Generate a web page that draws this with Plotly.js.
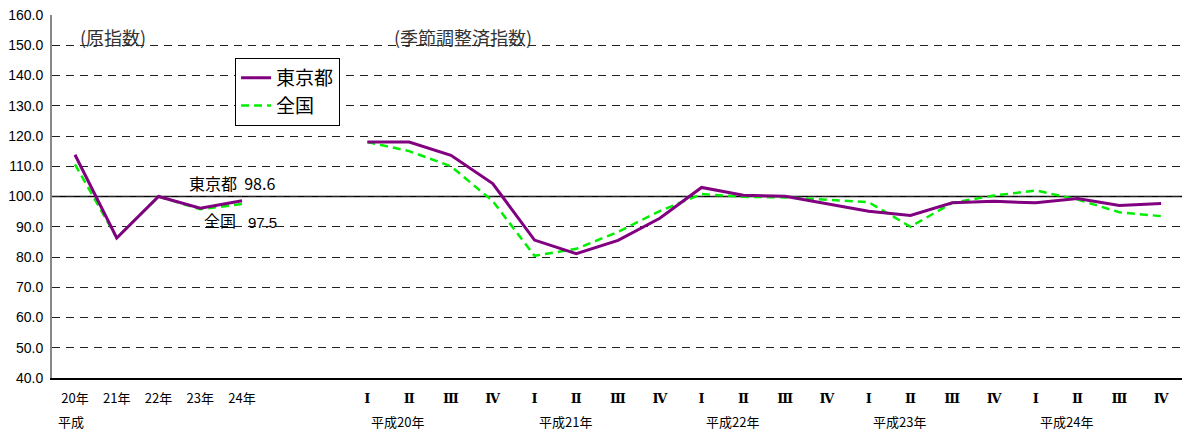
<!DOCTYPE html>
<html>
<head>
<meta charset="utf-8">
<script src="https://cdn.plot.ly/plotly-3.0.1.min.js"></script>
<style>html,body{margin:0;padding:0;background:#fff;}#chart{width:1183px;height:432px;}</style>
</head>
<body>
<div id="chart"></div>
<script>
// x positions (category index): 0-4 annual, 5-6 gap, 7-26 quarterly
const xIndex = [0,1,2,3,4,5,6,7,8,9,10,11,12,13,14,15,16,17,18,19,20,21,22,23,24,25,26];
const tickLabels = ['20年','21年','22年','23年','24年','','',
  'Ⅰ','Ⅱ','Ⅲ','Ⅳ','Ⅰ','Ⅱ','Ⅲ','Ⅳ','Ⅰ','Ⅱ','Ⅲ','Ⅳ','Ⅰ','Ⅱ','Ⅲ','Ⅳ','Ⅰ','Ⅱ','Ⅲ','Ⅳ'];
const tokyo = [113.8, 86.3, 100.0, 96.1, 98.6, null, null,
  118.0, 118.0, 113.6, 104.3, 85.6, 81.1, 85.5, 92.8, 103.0, 100.4, 100.1, 97.6,
  95.1, 93.7, 97.9, 98.4, 97.9, 99.3, 97.0, 97.7];
const zenkoku = [110.6, 86.3, 100.0, 95.8, 97.5, null, null,
  118.0, 115.0, 110.0, 98.5, 80.4, 82.7, 88.3, 95.2, 100.8, 99.9, 99.7, 99.0,
  98.1, 90.0, 97.9, 100.3, 102.0, 99.0, 94.8, 93.5];
const yearLabels = ['平成','平成20年','平成21年','平成22年','平成23年','平成24年'];
const yearLabelX = [-0.45, 7.05, 11.05, 15.05, 19.05, 23.05];
const yTicks = [40,50,60,70,80,90,100,110,120,130,140,150,160];

const jp = "'Noto Sans CJK JP', sans-serif";
const num = "Arial, 'Liberation Sans', 'Noto Sans CJK JP', sans-serif";

// roman numerals drawn in a serif face, years in gothic
const tickText = tickLabels.map(t => /^[ⅠⅡⅢⅣ]$/.test(t)
  ? '<span style="font-family:\'DejaVu Serif\',serif;font-weight:bold">' + t + '</span>' : t);

const traces = [
  {x: xIndex, y: tokyo, name: '東京都', type: 'scatter', mode: 'lines',
   line: {color: '#800080', width: 3}, connectgaps: false},
  {x: xIndex, y: zenkoku, name: '全国', type: 'scatter', mode: 'lines',
   line: {color: '#00EE00', width: 2.5, dash: '8px,5px'}, connectgaps: false}
];
const data = [traces[1], traces[0]];

const annotations = [
  {text: '(原指数)', x: 0.07, y: 152.8, xref: 'x', yref: 'y', xanchor: 'left', yanchor: 'middle',
   showarrow: false, font: {family: jp, size: 18, color: '#333'}},
  {text: '(季節調整済指数)', x: 7.6, y: 152.8, xref: 'x', yref: 'y', xanchor: 'left', yanchor: 'middle',
   showarrow: false, font: {family: jp, size: 18, color: '#333'}},
  {text: '東京都  98.6', x: 2.68, y: 104.6, xref: 'x', yref: 'y', xanchor: 'left', yanchor: 'middle',
   showarrow: false, font: {family: jp, size: 16, color: '#000'}},
  {text: '全国', x: 3.05, y: 92.3, xref: 'x', yref: 'y', xanchor: 'left', yanchor: 'middle',
   showarrow: false, font: {family: jp, size: 16, color: '#000'}},
  {text: '97.5', x: 4.1, y: 91.3, xref: 'x', yref: 'y', xanchor: 'left', yanchor: 'middle',
   showarrow: false, font: {family: num, size: 15, color: '#000'}}
];
yearLabels.forEach((t, i) => {
  annotations.push({text: t, x: yearLabelX[i], y: 0, xref: 'x', yref: 'paper',
    xanchor: 'left', yanchor: 'middle', yshift: -43, showarrow: false,
    font: {family: jp, size: 13, color: '#000'}});
});

const layout = {
  width: 1183, height: 432,
  margin: {l: 52, r: 1, t: 15, b: 54},
  paper_bgcolor: '#fff', plot_bgcolor: '#fff',
  showlegend: true,
  legend: {x: 0.162, y: 0.882, xanchor: 'left', yanchor: 'top',
    bordercolor: '#000', borderwidth: 1, bgcolor: '#fff',
    font: {family: jp, size: 19, color: '#000'}, traceorder: 'reversed',
    itemwidth: 30, tracegroupgap: 0},
  xaxis: {range: [-0.55, 26.5], tickmode: 'array', tickvals: xIndex, ticktext: tickText,
    showgrid: false, zeroline: false, showline: true, linecolor: '#000', linewidth: 1.5,
    ticks: '', ticklabelstandoff: 8, tickfont: {family: jp, size: 13, color: '#000'}, fixedrange: true},
  yaxis: {range: [40, 160], tickmode: 'array', tickvals: yTicks, tickformat: '.1f',
    showgrid: true, gridcolor: '#222', griddash: '8px,6px', gridwidth: 1,
    zeroline: false, showline: true, linecolor: '#888', linewidth: 2, ticks: '',
    ticklabelstandoff: 4,
    tickfont: {family: num, size: 14, color: '#000'}, fixedrange: true},
  shapes: [
    {type: 'line', xref: 'paper', x0: 0, x1: 1, yref: 'y', y0: 100, y1: 100,
     line: {color: '#000', width: 1.5}, layer: 'below'}
  ],
  annotations: annotations
};

Plotly.newPlot('chart', data, layout, {displayModeBar: false, staticPlot: true});
</script>
</body>
</html>
